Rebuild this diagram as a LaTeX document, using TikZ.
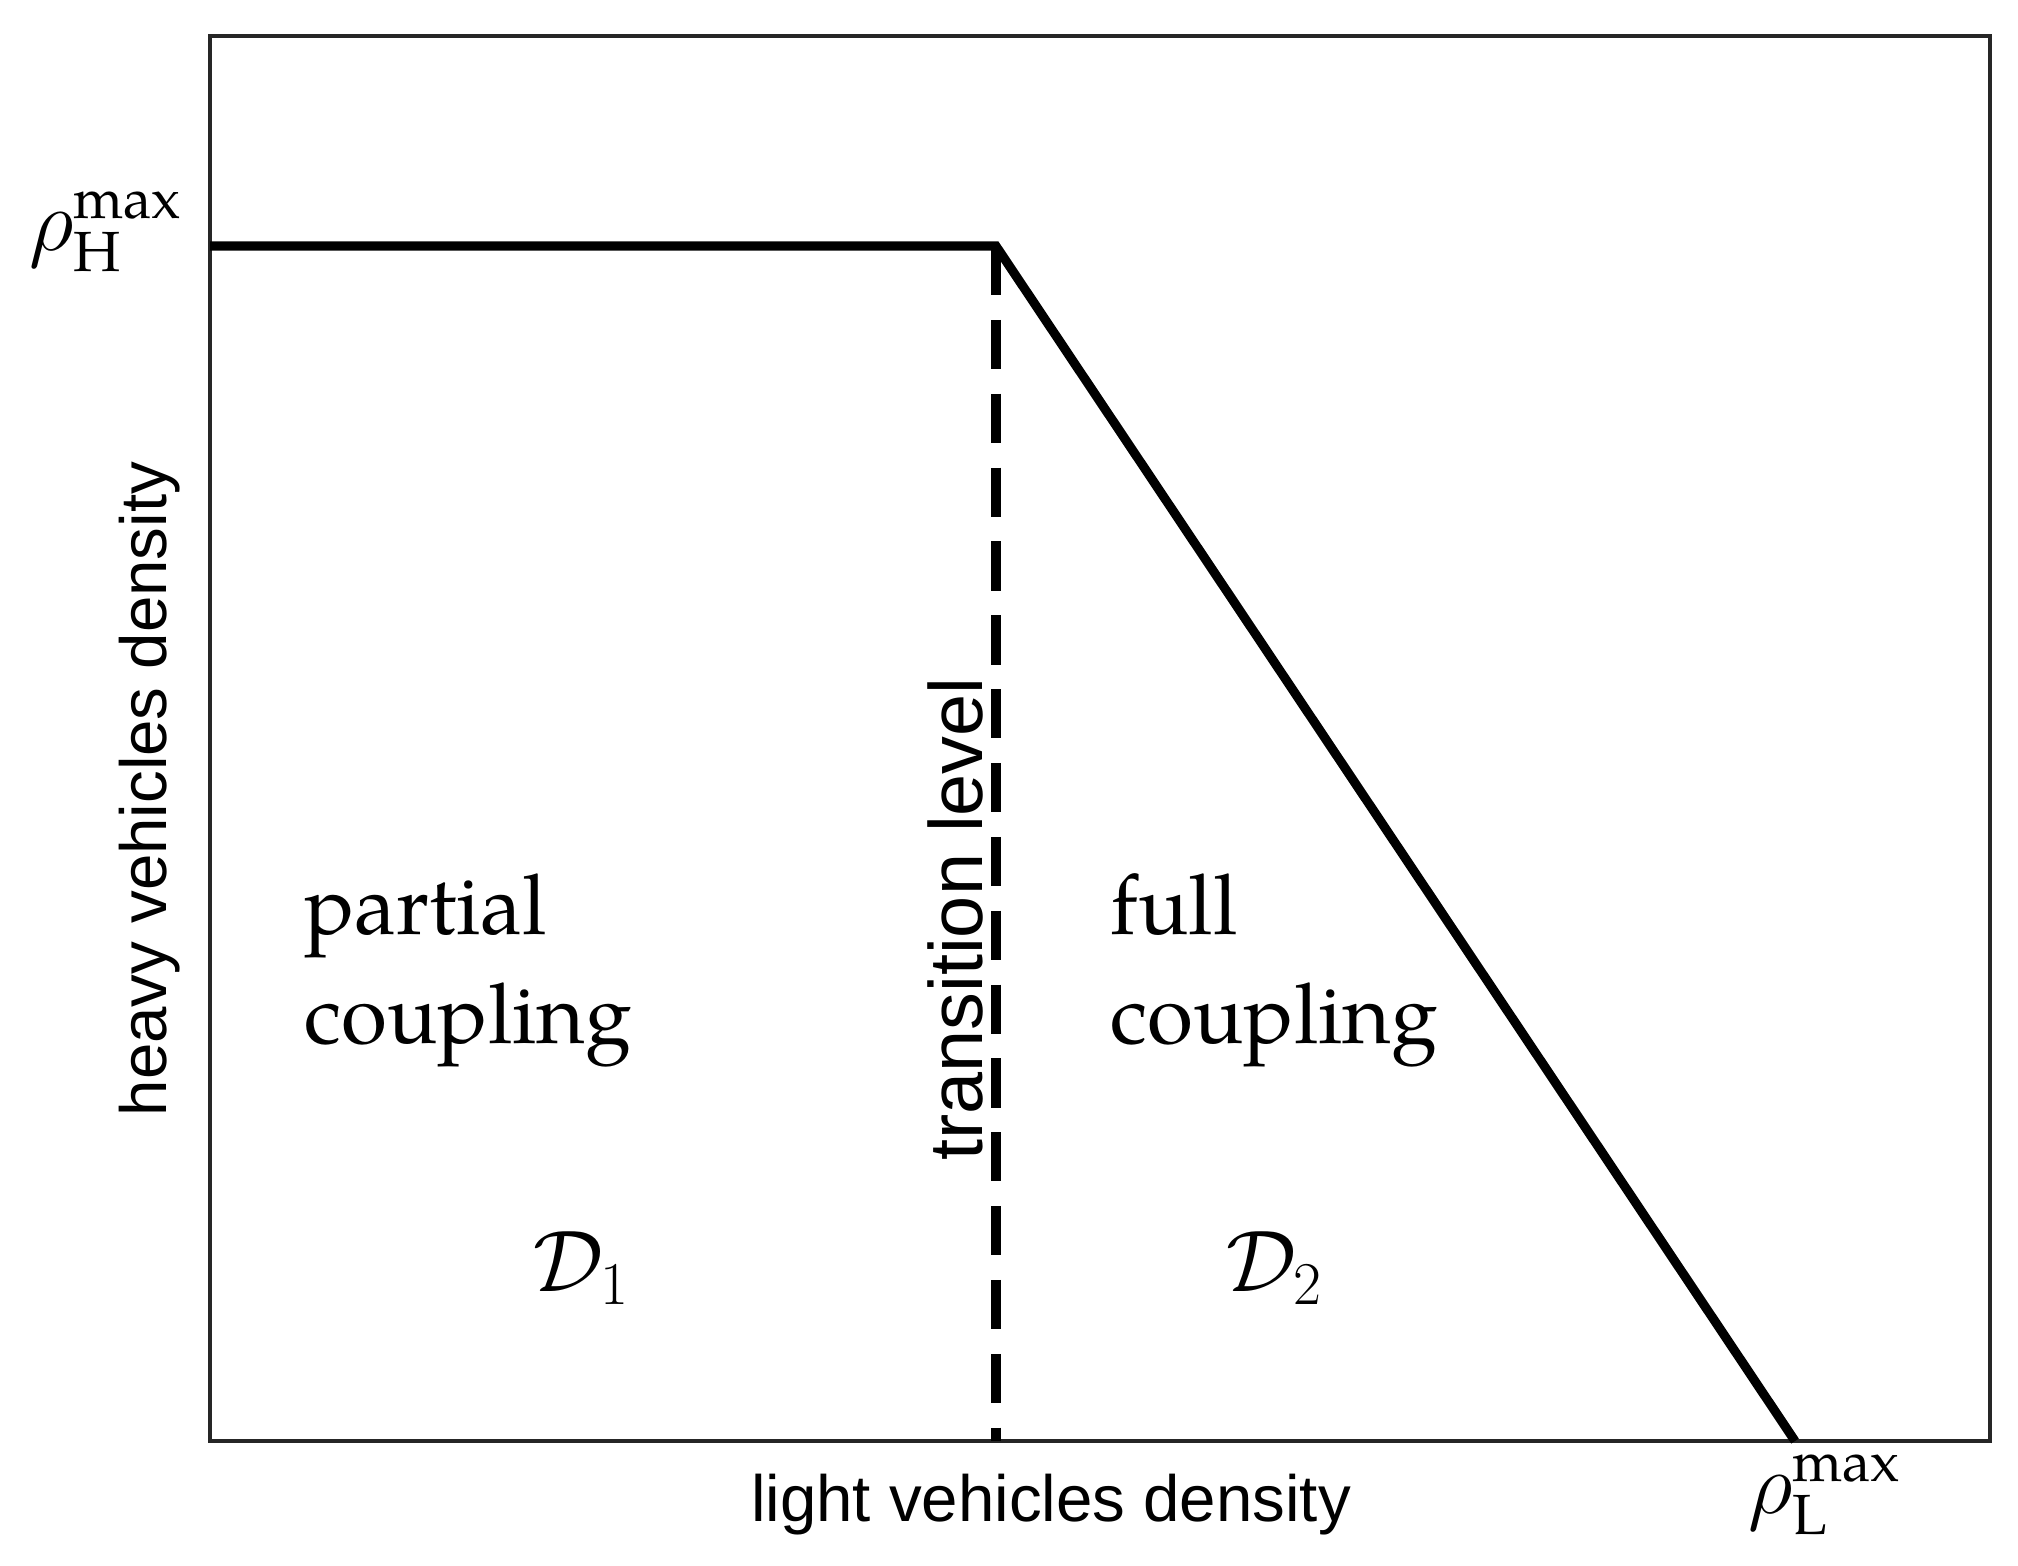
\documentclass[tikz,border=0pt]{standalone}
\usepackage{fontspec}
\setmainfont{TeX Gyre Pagella}[Scale=1]
\newfontfamily\labelsans{Liberation Sans}
\usetikzlibrary{positioning}
\begin{document}
\begin{tikzpicture}[x=0.01cm,y=-0.01cm,
    region/.style={font=\fontsize{23.8}{31}\selectfont, align=left},
    axislabel/.style={font=\labelsans\fontsize{18.6}{23}\selectfont},
    bound/.style={line width=2.6pt}
]
\useasboundingbox (0,0) rectangle (2018,1565);

% Frame
\draw[line width=0.9pt, black!85] (210,36) rectangle (1990,1441);

% Boundary curve
\coordinate (hmax) at (210,246);
\coordinate (kink) at (996,246);
\coordinate (lmax) at (1795,1441);
\coordinate (base) at (996,1441);
\draw[bound] (hmax) -- (kink) -- (lmax);
\draw[bound, dash pattern=on 14pt off 7pt] (kink) -- (base);

% Labels
\node[left, font=\fontsize{23}{28}\selectfont] (rhoH) at (195,232) {$\rho_{\mathrm{H}}^{\max}$};
\node[font=\fontsize{23}{28}\selectfont] (rhoL) at (1825,1495) {$\rho_{\mathrm{L}}^{\max}$};
\node[axislabel, rotate=90] (ylab) at (150,789) {heavy vehicles density};
\node[axislabel] (xlab) at (1051,1505) {light vehicles density};
\node[axislabel, rotate=90, font=\labelsans\fontsize{21.5}{26}\selectfont] (trans) at (955,919) {transition level};

% Regions
\node[region, anchor=west] (partial) at (292,970) {partial\\coupling};
\node[region, anchor=west] (full) at (1098,970) {full\\coupling};
\node[region] (D1) at (582,1268) {$\mathcal{D}_1$};
\node[region] (D2) at (1275,1268) {$\mathcal{D}_2$};
\end{tikzpicture}
\end{document}
